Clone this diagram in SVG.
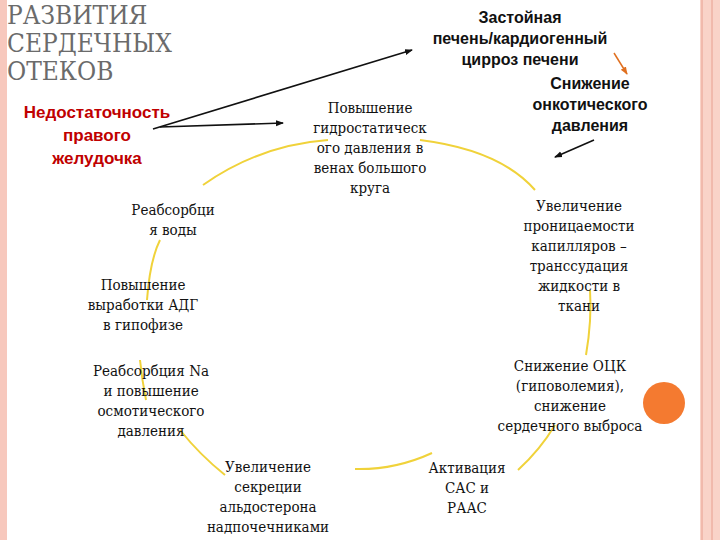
<svg xmlns="http://www.w3.org/2000/svg" width="720" height="540" viewBox="0 0 720 540">
<style>
.s{font-family:"DejaVu Serif Condensed","DejaVu Serif",serif;font-stretch:condensed;font-size:15px;fill:#111;text-anchor:middle}
.b{font-family:"Liberation Sans",sans-serif;font-size:16px;font-weight:bold;fill:#111;text-anchor:middle}
.r{font-family:"Liberation Sans",sans-serif;font-size:17px;font-weight:bold;fill:#c00000;text-anchor:middle}
.t{font-family:"DejaVu Serif Condensed","DejaVu Serif",serif;font-stretch:condensed;font-size:26px;fill:#6b6b6b}
.y{fill:none;stroke:#f0d23a;stroke-width:2}
.k{stroke:#111;stroke-width:1.6;fill:none}
</style>
<defs>
<marker id="a" markerWidth="8" markerHeight="8" refX="7" refY="4" orient="auto" markerUnits="userSpaceOnUse"><path d="M0,1 L8,4 L0,7z" fill="#111"/></marker>
<marker id="o" markerWidth="8" markerHeight="8" refX="7" refY="4" orient="auto" markerUnits="userSpaceOnUse"><path d="M0,1 L8,4 L0,7z" fill="#e07020"/></marker>
</defs>
<rect width="720" height="540" fill="#fff"/>
<rect x="0" y="0" width="7" height="540" fill="#f7c8bd"/>
<rect x="700" y="0" width="20" height="540" fill="#f9d3c8"/>
<line x1="702" y1="0" x2="702" y2="540" stroke="#e8a090"/>
<line x1="712" y1="0" x2="712" y2="540" stroke="#e8a090"/>
<g id="title"><text class="t" x="7" y="24">РАЗВИТИЯ</text><text class="t" x="7" y="52">СЕРДЕЧНЫХ</text><text class="t" x="7" y="80">ОТЕКОВ</text></g>
<g id="connectors">
<line class="k" x1="153" y1="129" x2="412" y2="50" marker-end="url(#a)"/>
<line class="k" x1="160" y1="127" x2="283" y2="123" marker-end="url(#a)"/>
<line x1="614" y1="53" x2="627" y2="74" stroke="#e07020" stroke-width="1.5" marker-end="url(#o)"/>
<line class="k" x1="594" y1="140" x2="555" y2="157" marker-end="url(#a)"/>
<path class="y" d="M203,185 Q260,145 328,140"/>
<path class="y" d="M420,140 Q500,150 535,190"/>
<path class="y" d="M590,290 Q592,320 586,355"/>
<path class="y" d="M555,425 Q540,450 518,470"/>
<path class="y" d="M432,453 Q395,470 355,469"/>
<path class="y" d="M180,430 Q200,455 225,475"/>
<path class="y" d="M140,360 Q142,380 146,400"/>
<path class="y" d="M147,300 Q150,260 160,240"/>
</g>
<g id="n1"><text class="r" x="97" y="118">Недостаточность</text><text class="r" x="97" y="141">правого</text><text class="r" x="97" y="164">желудочка</text></g>
<g id="n2"><text class="b" x="520" y="23">Застойная</text><text class="b" x="520" y="44">печень/кардиогенный</text><text class="b" x="520" y="65">цирроз печени</text></g>
<g id="n3"><text class="b" x="590" y="89">Снижение</text><text class="b" x="590" y="110">онкотического</text><text class="b" x="590" y="131">давления</text></g>
<g id="n4"><text class="s" x="370" y="113">Повышение</text><text class="s" x="370" y="133">гидростатическ</text><text class="s" x="370" y="153">ого давления в</text><text class="s" x="370" y="173">венах большого</text><text class="s" x="370" y="193">круга</text></g>
<g id="n5"><text class="s" x="579" y="211">Увеличение</text><text class="s" x="579" y="231">проницаемости</text><text class="s" x="579" y="251">капилляров –</text><text class="s" x="579" y="271">транссудация</text><text class="s" x="579" y="291">жидкости в</text><text class="s" x="579" y="311">ткани</text></g>
<g id="n6"><text class="s" x="570" y="371">Снижение ОЦК</text><text class="s" x="570" y="391">(гиповолемия),</text><text class="s" x="570" y="411">снижение</text><text class="s" x="570" y="431">сердечного выброса</text></g>
<g id="n7"><text class="s" x="467" y="473">Активация</text><text class="s" x="467" y="493">САС и</text><text class="s" x="467" y="513">РААС</text></g>
<g id="n8"><text class="s" x="268" y="472">Увеличение</text><text class="s" x="268" y="492">секреции</text><text class="s" x="268" y="512">альдостерона</text><text class="s" x="268" y="532">надпочечниками</text></g>
<g id="n9"><text class="s" x="151" y="376">Реабсорбция Na</text><text class="s" x="151" y="396">и повышение</text><text class="s" x="151" y="416">осмотического</text><text class="s" x="151" y="436">давления</text></g>
<g id="n10"><text class="s" x="143" y="290">Повышение</text><text class="s" x="143" y="310">выработки АДГ</text><text class="s" x="143" y="330">в гипофизе</text></g>
<g id="n11"><text class="s" x="173" y="215">Реабсорбци</text><text class="s" x="173" y="235">я воды</text></g>
<circle cx="664" cy="403" r="21" fill="#f47a30"/>
</svg>
